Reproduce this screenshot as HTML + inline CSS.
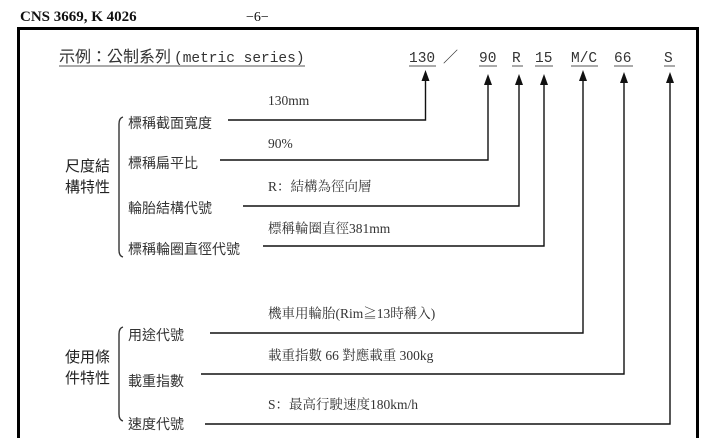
<!DOCTYPE html>
<html><head><meta charset="utf-8"><style>
html,body{margin:0;padding:0;background:#fff;width:720px;height:438px;overflow:hidden}
text{font-family:"Liberation Serif","Noto Serif CJK SC",serif;fill:#222}
.c text,text.c{font-family:"Noto Sans CJK TC","Liberation Sans",sans-serif;font-size:14px;fill:#333}
.m text,text.m{font-family:"Liberation Mono","Noto Sans CJK TC",monospace;font-size:14.5px;fill:#333}
.v text{font-family:"Liberation Serif","Noto Serif CJK SC",serif;font-size:13.5px;fill:#333}
</style></head><body>
<svg width="720" height="438" viewBox="0 0 720 438" xmlns="http://www.w3.org/2000/svg">
<text x="20" y="21" style="font-weight:bold;font-size:15px;fill:#111">CNS 3669, K 4026</text>
<text x="246" y="21" style="font-size:14px;fill:#111">−6−</text>
<path d="M18.5,440 V28.5 H697.5 V440" fill="none" stroke="#000" stroke-width="3"/>
<text x="59" y="62" class="c" style="font-size:16px">示例：公制系列</text>
<text x="174" y="62" class="m">(metric series)</text>
<line x1="59" y1="66" x2="305" y2="66" stroke="#555" stroke-width="1"/>
<g class="m">
<text x="409" y="62">130</text>
<text x="443" y="62" style="font-family:'Noto Sans CJK TC',sans-serif;font-size:15px">／</text>
<text x="479" y="62">90</text>
<text x="512" y="62">R</text>
<text x="535" y="62">15</text>
<text x="571" y="62">M/C</text>
<text x="614" y="62">66</text>
<text x="664" y="62">S</text>
</g>
<g stroke="#555" stroke-width="1">
<line x1="409" y1="66" x2="436" y2="66"/>
<line x1="479" y1="66" x2="497" y2="66"/>
<line x1="512" y1="66" x2="523" y2="66"/>
<line x1="535" y1="66" x2="553" y2="66"/>
<line x1="571" y1="66" x2="598" y2="66"/>
<line x1="614" y1="66" x2="633" y2="66"/>
<line x1="664" y1="66" x2="675" y2="66"/>
</g>
<g fill="none" stroke="#111" stroke-width="1.4">
<polyline points="228,120 425.5,120 425.5,78"/>
<polyline points="220,160 488,160 488,82"/>
<polyline points="243,206 519,206 519,82"/>
<polyline points="263,246 544,246 544,82"/>
<polyline points="210,333 583,333 583,78"/>
<polyline points="201,374 624,374 624,80"/>
<polyline points="205,424 670,424 670,80"/>
<path d="M123,117 Q119,118 119,124 V250 Q119,256 123,257" stroke="#333"/>
<path d="M123,327 Q119,328 119,334 V414 Q119,420 123,421" stroke="#333"/>
</g>
<g fill="#111">
<path d="M421.5,81 L425.5,70 L429.5,81 Z"/>
<path d="M484,85 L488,74 L492,85 Z"/>
<path d="M515,85 L519,74 L523,85 Z"/>
<path d="M540,85 L544,74 L548,85 Z"/>
<path d="M579,81 L583,70 L587,81 Z"/>
<path d="M620,83 L624,72 L628,83 Z"/>
<path d="M666,83 L670,72 L674,83 Z"/>
</g>
<g class="c">
<text x="128" y="128">標稱截面寬度</text>
<text x="128" y="168">標稱扁平比</text>
<text x="128" y="213">輪胎結構代號</text>
<text x="128" y="254">標稱輪圈直徑代號</text>
<text x="128" y="340">用途代號</text>
<text x="128" y="386">載重指數</text>
<text x="128" y="429">速度代號</text>
<text x="65" y="171" style="font-size:15px;fill:#222">尺度結</text>
<text x="65" y="192" style="font-size:15px;fill:#222">構特性</text>
<text x="65" y="362" style="font-size:15px;fill:#222">使用條</text>
<text x="65" y="383" style="font-size:15px;fill:#222">件特性</text>
</g>
<g class="v">
<text x="268" y="105">130mm</text>
<text x="268" y="148">90%</text>
<text x="268" y="191">R：結構為徑向層</text>
<text x="268" y="233">標稱輪圈直徑381mm</text>
<text x="268" y="318">機車用輪胎(Rim≧13時稱入)</text>
<text x="268" y="360">載重指數 66 對應載重 300kg</text>
<text x="268" y="409">S：最高行駛速度180km/h</text>
</g>
</svg>
</body></html>
